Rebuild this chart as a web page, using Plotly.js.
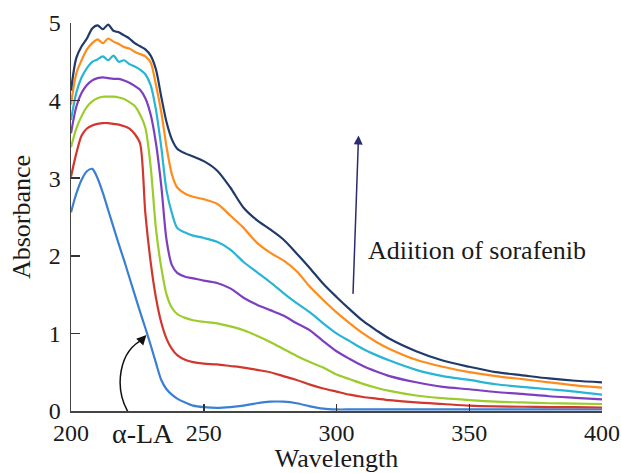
<!DOCTYPE html>
<html>
<head>
<meta charset="utf-8">
<script src="https://cdn.plot.ly/plotly-3.0.1.min.js"></script>
<style>
  html, body { margin: 0; padding: 0; background: #fff; }
  #chart { width: 621px; height: 473px; }
</style>
</head>
<body>
<div id="chart"></div>
<script>
// Wavelength grid (nm)
const wavelength = [200,202,204,206,208,210,212,214,216,218,220,222,224,226,228,230,232,234,236,238,240,243,246,250,255,260,265,270,275,280,285,290,295,300,305,310,315,320,330,340,350,360,370,380,390,400];

// Absorbance of alpha-lactalbumin alone and with increasing sorafenib
const absLA = [2.56,2.80,2.98,3.09,3.12,3.00,2.81,2.59,2.37,2.15,1.94,1.72,1.50,1.28,1.07,0.85,0.62,0.40,0.28,0.21,0.16,0.11,0.07,0.05,0.04,0.05,0.07,0.10,0.12,0.12,0.10,0.06,0.03,0.02,0.02,0.02,0.02,0.02,0.02,0.02,0.02,0.02,0.02,0.02,0.02,0.02];
const absS1 = [3.02,3.32,3.55,3.64,3.68,3.70,3.71,3.71,3.70,3.69,3.67,3.64,3.57,3.45,2.55,1.92,1.46,1.14,0.93,0.80,0.72,0.66,0.63,0.61,0.60,0.58,0.56,0.53,0.50,0.45,0.40,0.34,0.29,0.25,0.21,0.18,0.16,0.14,0.11,0.09,0.07,0.06,0.055,0.05,0.05,0.045];
const absS2 = [3.40,3.64,3.80,3.92,3.99,4.03,4.05,4.05,4.05,4.04,4.02,3.98,3.93,3.82,3.65,3.15,2.35,1.85,1.50,1.33,1.25,1.20,1.17,1.15,1.13,1.09,1.04,0.97,0.89,0.80,0.71,0.63,0.56,0.47,0.41,0.35,0.30,0.26,0.20,0.165,0.14,0.12,0.11,0.10,0.095,0.09];
const absS3 = [3.58,3.92,4.10,4.20,4.26,4.29,4.30,4.29,4.28,4.28,4.26,4.23,4.19,4.14,4.03,3.82,3.45,2.90,2.20,1.88,1.78,1.73,1.71,1.68,1.65,1.58,1.46,1.37,1.30,1.23,1.13,1.04,0.90,0.77,0.67,0.58,0.51,0.45,0.37,0.31,0.28,0.245,0.22,0.19,0.17,0.15];
const absS4 = [3.75,4.10,4.30,4.42,4.50,4.53,4.57,4.52,4.58,4.50,4.52,4.47,4.44,4.40,4.34,4.20,3.88,3.40,2.84,2.55,2.36,2.30,2.26,2.23,2.18,2.08,1.92,1.79,1.66,1.52,1.39,1.27,1.13,1.00,0.90,0.80,0.72,0.65,0.53,0.45,0.40,0.345,0.31,0.28,0.25,0.21];
const absS5 = [3.95,4.35,4.52,4.66,4.74,4.79,4.74,4.80,4.76,4.73,4.69,4.67,4.63,4.60,4.57,4.49,4.20,3.85,3.40,3.05,2.88,2.80,2.76,2.73,2.67,2.52,2.36,2.17,2.04,1.94,1.80,1.60,1.43,1.27,1.13,1.00,0.89,0.80,0.66,0.57,0.50,0.45,0.41,0.37,0.33,0.30];
const absS6 = [4.13,4.55,4.70,4.80,4.93,4.97,4.92,4.98,4.90,4.88,4.84,4.80,4.74,4.70,4.66,4.58,4.40,4.05,3.72,3.50,3.38,3.32,3.28,3.22,3.10,2.88,2.62,2.46,2.34,2.21,2.03,1.84,1.64,1.47,1.31,1.16,1.04,0.93,0.77,0.65,0.57,0.50,0.46,0.42,0.39,0.37];

const seriesNames = ['α-LA','+ sorafenib 1','+ sorafenib 2','+ sorafenib 3','+ sorafenib 4','+ sorafenib 5','+ sorafenib 6'];
const seriesValues = [absLA, absS1, absS2, absS3, absS4, absS5, absS6];
const seriesColors = ['#3b7fd4','#d2372e','#9acd2a','#7d3fc0','#28b4d4','#ff8c1a','#203a6b'];

const traces = seriesValues.map((vals, i) => ({
  type: 'scatter',
  mode: 'lines',
  name: seriesNames[i],
  x: wavelength,
  y: vals,
  line: { color: seriesColors[i], width: 2.2, shape: 'spline', smoothing: 0.8 },
  hoverinfo: 'x+y+name'
}));

const serif = 'Liberation Serif, Times New Roman, serif';

const layout = {
  width: 621,
  height: 473,
  margin: { l: 71, r: 19, t: 23, b: 62 },
  paper_bgcolor: '#ffffff',
  plot_bgcolor: '#ffffff',
  showlegend: false,
  font: { family: serif, size: 24, color: '#1a1a1a' },
  xaxis: {
    range: [200, 400],
    tickvals: [200, 250, 300, 350, 400],
    ticks: 'inside',
    ticklen: 7,
    tickwidth: 1.5,
    tickcolor: '#333',
    showline: true,
    linecolor: '#444',
    linewidth: 1.5,
    showgrid: false,
    zeroline: false,
    tickfont: { family: serif, size: 24, color: '#1a1a1a' },
    title: { text: 'Wavelength', font: { family: serif, size: 26, color: '#1a1a1a' }, standoff: 8 }
  },
  yaxis: {
    range: [0, 5],
    tickvals: [0, 1, 2, 3, 4, 5],
    ticks: 'inside',
    ticklen: 9,
    tickwidth: 1.5,
    tickcolor: '#333',
    showline: true,
    linecolor: '#444',
    linewidth: 1.5,
    showgrid: false,
    zeroline: false,
    ticklabelstandoff: 4,
    tickfont: { family: serif, size: 24, color: '#1a1a1a' },
    title: { text: 'Absorbance', font: { family: serif, size: 26, color: '#1a1a1a' }, standoff: 10 }
  },
  shapes: [
    // curved pointer toward the α-LA spectrum
    {
      type: 'path', xref: 'x', yref: 'y',
      path: 'M 221.6,-0.02 C 216.2,0.30 217.8,0.78 227.6,0.93',
      line: { color: '#111', width: 1.5 }
    }
  ],
  annotations: [
    {
      x: 228.4, y: 0.98, xref: 'x', yref: 'y',
      ax: 226.2, ay: 0.90, axref: 'x', ayref: 'y',
      text: '', showarrow: true, arrowhead: 2, arrowsize: 1.3, arrowwidth: 1.5, arrowcolor: '#111'
    },
    {
      x: 227.0, y: -0.057, xref: 'x', yref: 'paper',
      text: 'α-LA', showarrow: false, yanchor: 'middle',
      font: { family: serif, size: 28, color: '#1a1a1a' }
    },
    {
      x: 308.3, y: 3.55, xref: 'x', yref: 'y',
      ax: 306.2, ay: 1.49, axref: 'x', ayref: 'y',
      text: '', showarrow: true, arrowhead: 2, arrowsize: 1.2, arrowwidth: 1.5, arrowcolor: '#2b2b70'
    },
    {
      x: 311, y: 2.07, xref: 'x', yref: 'y',
      text: 'Adiition of sorafenib', showarrow: false, xanchor: 'left', yanchor: 'middle',
      font: { family: serif, size: 26, color: '#1a1a1a' }
    }
  ]
};

Plotly.newPlot('chart', traces, layout, { displayModeBar: false, staticPlot: true });
</script>
</body>
</html>
